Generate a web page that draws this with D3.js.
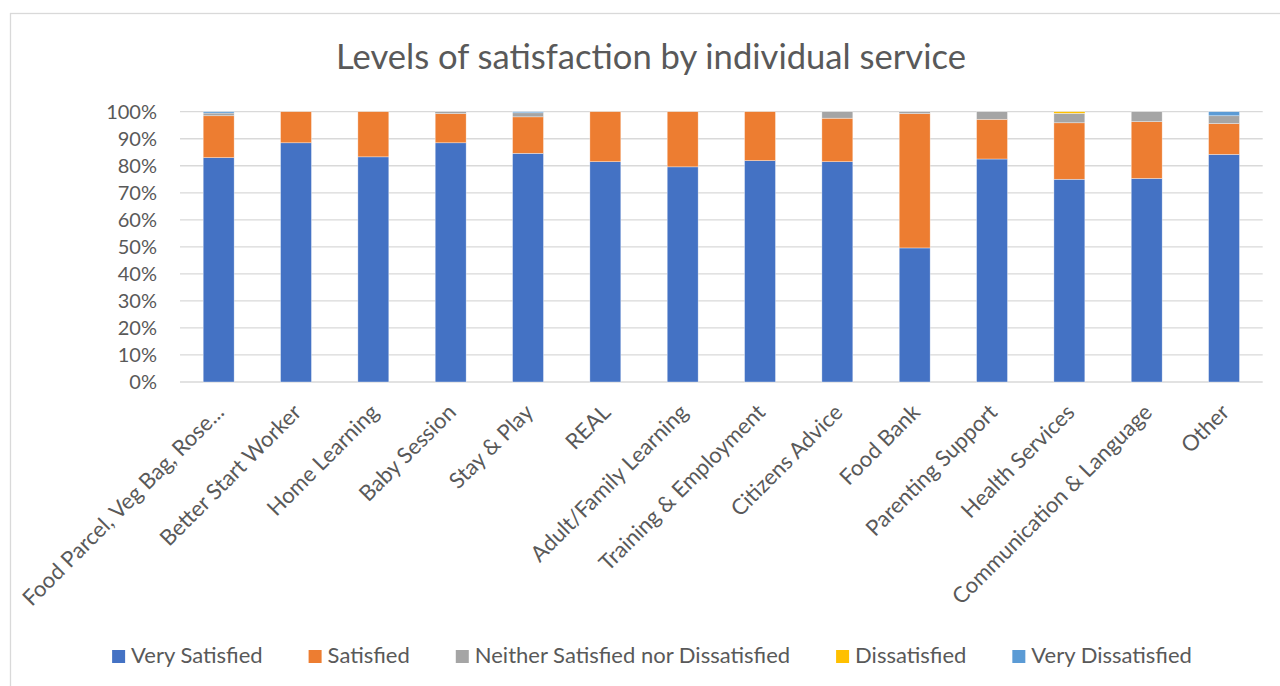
<!DOCTYPE html>
<html><head><meta charset="utf-8">
<script src="https://cdn.jsdelivr.net/npm/d3@7"></script>
<style>body{margin:0;background:#fff;} svg{display:block;font-family:Lato,'Open Sans',sans-serif;}</style>
</head><body><svg id="c" width="1280" height="686"></svg>
<script>
const categories = ["Food Parcel, Veg Bag, Rose...","Better Start Worker","Home Learning","Baby Session","Stay & Play","REAL","Adult/Family Learning","Training & Employment","Citizens Advice","Food Bank","Parenting Support","Health Services","Communication & Language","Other"];
const seriesNames = ["Very Satisfied","Satisfied","Neither Satisfied nor Dissatisfied","Dissatisfied","Very Dissatisfied"];
const verySatisfied = [83.0, 88.5, 83.3, 88.5, 84.6, 81.5, 79.6, 81.9, 81.5, 49.6, 82.5, 75.0, 75.3, 84.2];
const satisfied     = [15.5, 11.5, 16.7, 10.8, 13.5, 18.5, 20.4, 18.1, 16.1, 49.7, 14.7, 20.9, 21.0, 11.4];
const neither       = [ 1.0,  0.0,  0.0,  0.7,  1.5,  0.0,  0.0,  0.0,  2.4,  0.7,  2.8,  3.5,  3.7,  2.9];
const dissatisfied  = [ 0.0,  0.0,  0.0,  0.0,  0.0,  0.0,  0.0,  0.0,  0.0,  0.0,  0.0,  0.6,  0.0,  0.0];
const veryDissatisfied = [0.5, 0.0, 0.0, 0.0,  0.4,  0.0,  0.0,  0.0,  0.0,  0.0,  0.0,  0.0,  0.0,  1.5];
const yTicks = [0,10,20,30,40,50,60,70,80,90,100];
const colors = ["#4472C4","#ED7D31","#A5A5A5","#FFC000","#5B9BD5"];
const title = "Levels of satisfaction by individual service";

(function(){
const seriesValues = [verySatisfied, satisfied, neither, dissatisfied, veryDissatisfied];
const rows = categories.map((c,i)=>{const r={cat:c}; seriesNames.forEach((s,j)=>r[s]=seriesValues[j][i]); return r;});
const stacked = d3.stack().keys(seriesNames)(rows);

const svg = d3.select("#c");
const pLeft=180,pRight=1262.7,pTop=111.7,pBottom=382;
const textColor="#595959";
const ff="Lato,'Open Sans',sans-serif";

svg.append("rect").attr("x",10.5).attr("y",13.5).attr("width",1300).attr("height",700)
  .attr("fill","none").attr("stroke","#D9D9D9").attr("stroke-width",1.3);

svg.append("text").attr("x",651).attr("y",69).attr("text-anchor","middle")
  .attr("font-size",34.6).attr("fill",textColor).text(title);

const x = d3.scaleBand().domain(categories).range([pLeft,pRight]).paddingInner(0.6).paddingOuter(0.3);
const y = d3.scaleLinear().domain([0,100]).range([pBottom,pTop]);

svg.append("g").selectAll("line").data(yTicks).join("line")
  .attr("x1",pLeft).attr("x2",pRight).attr("y1",d=>y(d)).attr("y2",d=>y(d))
  .attr("stroke","#D9D9D9").attr("stroke-width",1.3);

const yAxis = d3.axisLeft(y).tickValues(yTicks).tickFormat(d=>d+"%").tickSize(0).tickPadding(0);
const yg = svg.append("g").attr("transform",`translate(157,0)`).call(yAxis);
yg.select(".domain").remove();
yg.selectAll("text").attr("font-size",20).attr("fill",textColor).attr("font-family",ff);

svg.append("g").selectAll("g").data(stacked).join("g").attr("fill",(d,i)=>colors[i])
  .selectAll("rect").data(d=>d).join("rect")
  .attr("x",d=>x(d.data.cat)).attr("width",x.bandwidth())
  .attr("y",d=>y(d[1])).attr("height",d=>Math.max(0,y(d[0])-y(d[1])))
  .attr("stroke","#fff").attr("stroke-width",0.6).attr("stroke-opacity",0.6);

const xAxis = d3.axisBottom(x).tickSize(0).tickPadding(0);
const xg = svg.append("g").attr("transform",`translate(0,${pBottom})`).call(xAxis);
xg.select(".domain").remove();
xg.selectAll("text").attr("font-size",22).attr("fill",textColor).attr("font-family",ff)
  .attr("text-anchor","end").attr("y",0)
  .attr("transform","translate(-5,20) rotate(-45)").attr("dy","0.75em");

const lg = svg.append("g");
const items = lg.selectAll("g").data(seriesNames).join("g");
items.append("rect").attr("width",13).attr("height",13).attr("y",-13).attr("fill",(d,i)=>colors[i]);
items.append("text").attr("x",19).attr("y",0).attr("font-size",22).attr("fill",textColor).text(d=>d);
const gap=46; const widths=[];
items.each(function(){widths.push(19+this.querySelector("text").getComputedTextLength());});
const total=d3.sum(widths)+gap*(widths.length-1);
let cx=652-total/2;
items.attr("transform",(d,i)=>{const t=`translate(${cx},663)`; cx+=widths[i]+gap; return t;});
})();
</script></body></html>
